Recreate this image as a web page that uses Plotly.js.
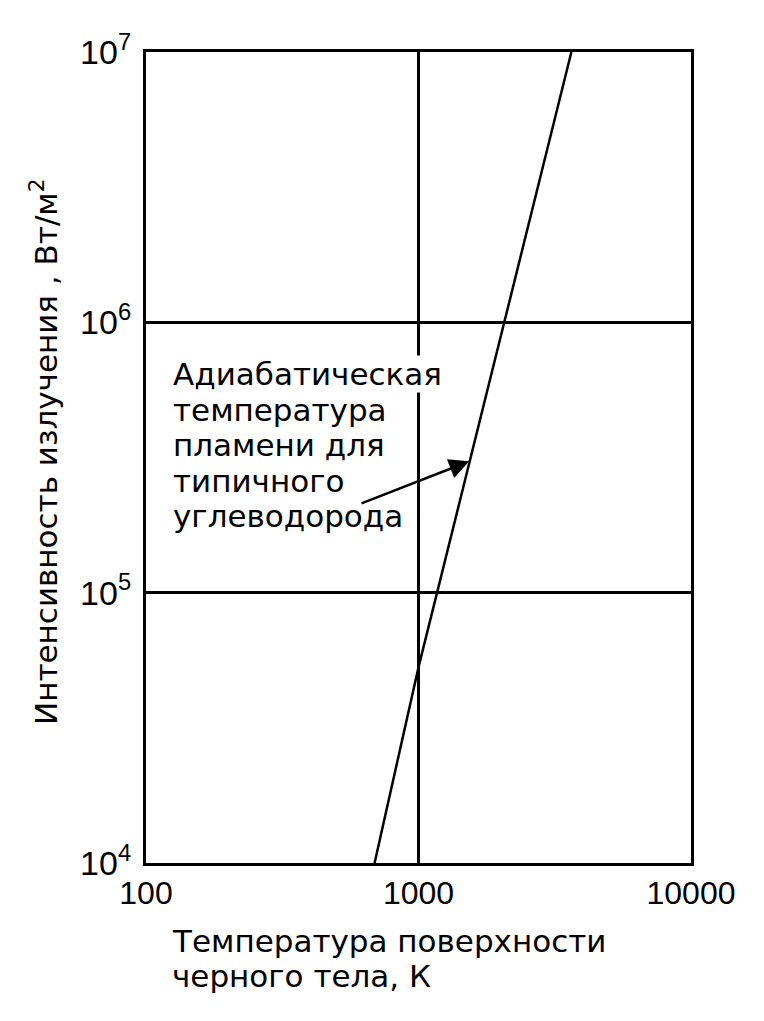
<!DOCTYPE html>
<html>
<head>
<meta charset="utf-8">
<script src="https://cdn.plot.ly/plotly-3.0.1.min.js"></script>
<style>
html,body{margin:0;padding:0;background:#fff;}
#chart{width:764px;height:1021px;}
</style>
</head>
<body>
<div id="chart"></div>
<script>
// ---- data ----
var temperatureK = [690, 1000, 1170, 2070, 3640];
var intensityWm2 = [1e4, 5.3e4, 1e5, 1e6, 1e7];

var xTickVals = [100, 1000, 10000];
var xTickText = ['100', '1000', '10000'];
var yTickVals = [1e4, 1e5, 1e6, 1e7];
var yTickText = ['10<sup>4</sup>', '10<sup>5</sup>', '10<sup>6</sup>', '10<sup>7</sup>'];

var noteLines = ['Адиабатическая', 'температура', 'пламени для', 'типичного', 'углеводорода'];
var xTitleLines = ['Температура поверхности', 'черного тела, К'];
var yTitleText = 'Интенсивность излучения , Вт/м<sup>2</sup>';

// arrow: tip on the curve, tail near the note
var arrowTip = {T: 1535, I: 3.06e5};
var arrowTail = {T: 610, I: 2.13e5};

// ---- layout geometry ----
var W = 764, H = 1021;
var M = {l: 146, r: 73, t: 52, b: 158};
var PW = W - M.l - M.r, PH = H - M.t - M.b;
function px(x) { return (x - M.l) / PW; }
function py(y) { return (H - M.b - y) / PH; }

var textFont = {family: 'DejaVu Sans', size: 31, color: '#000'};
var xTickFont = {family: 'Liberation Sans Narrow, Liberation Sans, Arial', size: 32, color: '#000'};
var yTickFont = {family: 'Liberation Sans Narrow, Liberation Sans, Arial', size: 34, color: '#000'};

var annotations = [];
var noteCenters = [374, 409.5, 445, 480.5, 516];
noteLines.forEach(function (t, i) {
  annotations.push({
    xref: 'paper', yref: 'paper', x: px(172), y: py(noteCenters[i]),
    xanchor: 'left', yanchor: 'middle', text: t, showarrow: false,
    font: textFont, bgcolor: i === 0 ? '#fff' : 'rgba(0,0,0,0)', borderpad: 0
  });
});
var xTitleCenters = [941, 976];
xTitleLines.forEach(function (t, i) {
  annotations.push({
    xref: 'paper', yref: 'paper', x: px(170), y: py(xTitleCenters[i]),
    xanchor: 'left', yanchor: 'middle', text: t, showarrow: false, font: textFont
  });
});
annotations.push({
  xref: 'paper', yref: 'paper', x: px(44), y: py(452),
  xanchor: 'center', yanchor: 'middle', textangle: -90,
  text: yTitleText, showarrow: false, font: textFont
});
annotations.push({
  xref: 'x', yref: 'y', axref: 'x', ayref: 'y',
  x: Math.log10(arrowTip.T), y: Math.log10(arrowTip.I),
  ax: Math.log10(arrowTail.T), ay: Math.log10(arrowTail.I),
  text: '', showarrow: true, arrowhead: 2, arrowsize: 1.6, arrowwidth: 2.5,
  arrowcolor: '#000', standoff: 0, startstandoff: 0
});

var trace = {
  x: temperatureK, y: intensityWm2, type: 'scatter', mode: 'lines',
  line: {color: '#000', width: 2.5}, hoverinfo: 'skip', showlegend: false
};

var layout = {
  width: W, height: H, margin: M,
  paper_bgcolor: '#fff', plot_bgcolor: '#fff',
  showlegend: false,
  xaxis: {
    type: 'log', range: [2, 4], tickvals: xTickVals, ticktext: xTickText,
    ticks: '', showgrid: true, gridcolor: '#000', gridwidth: 3,
    showline: true, mirror: true, linecolor: '#000', linewidth: 3,
    tickfont: xTickFont, zeroline: false, fixedrange: true
  },
  yaxis: {
    type: 'log', range: [4, 7], tickvals: yTickVals, ticktext: yTickText,
    ticks: '', showgrid: true, gridcolor: '#000', gridwidth: 3,
    showline: true, mirror: true, linecolor: '#000', linewidth: 3,
    tickfont: yTickFont, zeroline: false, fixedrange: true, ticklabelstandoff: 5
  },
  annotations: annotations
};

Plotly.newPlot('chart', [trace], layout, {staticPlot: true, displayModeBar: false});
</script>
</body>
</html>
